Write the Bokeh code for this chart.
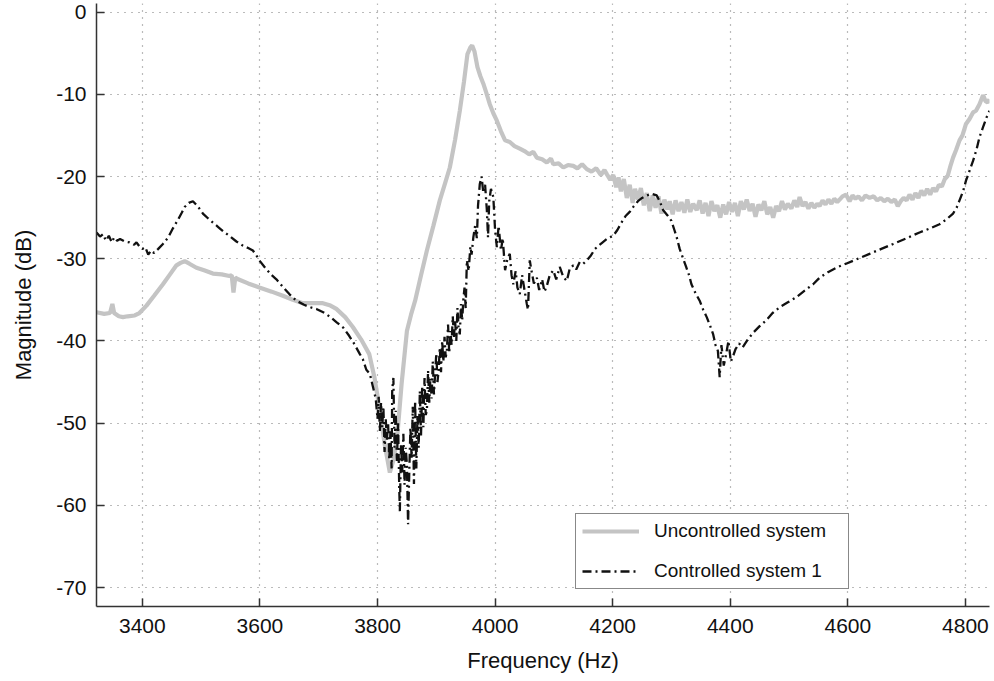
from bokeh.plotting import figure
from bokeh.models import Range1d, FixedTicker, Legend, LegendItem
from bokeh.embed import file_html
from bokeh.resources import INLINE

# ---------------- data ----------------
x_ticks = [3400, 3600, 3800, 4000, 4200, 4400, 4600, 4800]
y_ticks = [-70, -60, -50, -40, -30, -20, -10, 0]

unc_freq = [3322, 3335, 3345, 3349, 3352, 3360, 3367, 3375, 3387, 3395, 3407, 3420, 3435, 3447, 3458,
            3465, 3472, 3480, 3492, 3505, 3520, 3535, 3548, 3552, 3555, 3558, 3563, 3580, 3599, 3620,
            3639, 3656, 3673, 3690, 3707, 3720, 3730, 3745, 3758, 3772, 3786, 3795, 3804, 3812, 3821,
            3827, 3833, 3841, 3850, 3857, 3864, 3874, 3884, 3895, 3906, 3915, 3923, 3932, 3940, 3947,
            3953, 3958, 3961, 3965, 3970, 3975, 3980, 3985, 3991, 3997, 4003, 4010, 4017, 4025, 4033,
            4042, 4050, 4058, 4065, 4071, 4080, 4088, 4095, 4099, 4108, 4116, 4124, 4133, 4140, 4148,
            4156, 4164, 4172, 4180, 4186, 4190, 4196, 4201, 4206, 4210, 4214, 4219, 4224, 4229, 4234,
            4238, 4243, 4248, 4253, 4258, 4263, 4268, 4273, 4278, 4283, 4288, 4293, 4297, 4302, 4307,
            4312, 4317, 4322, 4327, 4332, 4337, 4343, 4348, 4353, 4358, 4363, 4368, 4373, 4378, 4383,
            4388, 4393, 4398, 4403, 4408, 4413, 4418, 4423, 4428, 4433, 4438, 4443, 4448, 4453, 4458,
            4463, 4468, 4473, 4478, 4483, 4488, 4493, 4498, 4504, 4509, 4514, 4518, 4523, 4528, 4533,
            4538, 4543, 4548, 4552, 4557, 4562, 4567, 4572, 4577, 4582, 4586, 4591, 4597, 4603, 4608,
            4613, 4618, 4624, 4630, 4637, 4644, 4650, 4656, 4662, 4668, 4674, 4680, 4685, 4690, 4695,
            4700, 4705, 4710, 4715, 4720, 4725, 4730, 4735, 4740, 4745, 4750, 4755, 4760, 4765, 4770,
            4775, 4779, 4784, 4790, 4795, 4801, 4807, 4813, 4818, 4824, 4830, 4834, 4838, 4841]
unc_db = [-36.5, -36.7, -36.6, -35.5, -36.6, -37.0, -37.1, -37.0, -36.9, -36.6, -35.7, -34.5, -33.1, -31.9, -30.8,
          -30.5, -30.3, -30.6, -31.1, -31.4, -31.8, -31.9, -32.1, -32.0, -34.1, -32.3, -32.5, -33.0, -33.5, -34.0,
          -34.5, -35.0, -35.4, -35.4, -35.4, -35.7, -36.1, -37.1, -38.3, -39.8, -41.6, -44.5, -48.5, -52.5, -56.0,
          -54.5, -52.1, -45.2, -38.8, -36.8, -35.1, -32.0, -29.0, -26.0, -22.9, -20.8, -18.9, -15.5, -12.0, -8.5,
          -5.1, -4.3, -4.05, -4.8, -6.7, -7.8, -8.7, -9.8, -11.2, -12.3, -13.2, -14.5, -15.6, -15.8, -16.3,
          -16.6, -16.9, -17.3, -17.0, -17.7, -17.9, -18.3, -17.8, -18.5, -18.4, -18.9, -18.6, -18.7, -19.0, -18.5,
          -19.1, -19.4, -19.0, -19.8, -19.2, -19.7, -20.4, -19.8, -21.3, -20.1, -21.8, -20.3, -22.6, -21.0, -23.2,
          -21.5, -22.8, -21.4, -23.5, -22.0, -24.2, -22.3, -23.8, -22.4, -24.5, -22.8, -24.0, -23.0, -24.6, -22.9,
          -24.2, -23.1, -24.4, -22.8, -24.3, -23.3, -24.1, -22.9, -24.5, -23.2, -24.8, -23.0, -24.2, -23.5, -25.0,
          -23.4, -24.6, -23.1, -24.3, -23.2, -24.8, -23.0, -24.0, -22.8, -24.2, -23.3, -24.9, -23.4, -24.1, -23.0,
          -24.6, -23.7, -25.0, -23.6, -24.2, -23.0, -24.0, -23.3, -23.9, -22.9, -23.7, -22.5, -23.6, -23.1, -23.9,
          -23.2, -23.8, -23.3, -23.6, -22.9, -23.4, -22.8, -23.3, -22.7, -23.1, -22.8, -22.4, -22.2, -23.0, -22.3,
          -22.7, -22.4, -22.9, -22.3, -22.6, -22.4, -22.9, -22.6, -23.0, -22.7, -23.1, -22.8, -23.6, -23.0, -22.6,
          -22.9, -22.2, -22.8, -22.0, -22.6, -21.7, -22.3, -21.5, -22.2, -21.4, -21.8, -21.0, -21.2, -20.3, -19.9,
          -18.6, -17.7, -16.8, -15.6, -15.0, -13.6, -13.0, -12.2, -12.0, -11.2, -10.1, -10.8, -11.0, -10.6]

ctl_freq = [3322, 3328, 3333, 3338, 3343, 3348, 3352, 3357, 3362, 3370, 3378, 3386, 3390, 3395, 3400,
            3405, 3410, 3415, 3420, 3427, 3435, 3444, 3452, 3461, 3467, 3472, 3479, 3486, 3494, 3503,
            3512, 3520, 3530, 3540, 3548, 3560, 3571, 3580, 3588, 3594, 3599, 3610, 3620, 3628, 3640,
            3650, 3662, 3675, 3686, 3696, 3710, 3720, 3730, 3742, 3752, 3760, 3770, 3775, 3781, 3787,
            3792, 3797, 3800, 3802, 3804, 3806, 3808, 3810, 3812, 3814, 3816, 3818, 3820, 3822, 3824,
            3825, 3827, 3829, 3831, 3833, 3835, 3837, 3838, 3840, 3842, 3844, 3846, 3848, 3850, 3852,
            3854, 3856, 3858, 3860, 3862, 3864, 3866, 3868, 3870, 3872, 3874, 3876, 3878, 3880, 3882,
            3884, 3886, 3888, 3890, 3892, 3894, 3896, 3898, 3900, 3902, 3904, 3906, 3908, 3910, 3912,
            3914, 3916, 3918, 3920, 3922, 3924, 3926, 3928, 3930, 3932, 3934, 3936, 3938, 3940, 3942,
            3944, 3946, 3948, 3950, 3952, 3955, 3958, 3960, 3963,
            3966, 3969, 3971, 3974, 3977, 3980, 3983, 3986, 3988, 3990, 3993, 3997, 4000, 4003, 4006,
            4010, 4013, 4017, 4021, 4025, 4028, 4031, 4035, 4038, 4042, 4046, 4050, 4054, 4056, 4059,
            4062, 4066, 4071, 4075, 4080, 4084, 4088, 4093, 4099, 4104, 4110, 4116, 4122, 4127, 4133,
            4138, 4144, 4150, 4156, 4163, 4170, 4176, 4183, 4190, 4195, 4201, 4208, 4215, 4222, 4229,
            4236, 4243, 4250, 4258, 4266, 4275, 4280, 4286, 4293, 4300, 4305, 4309, 4314, 4320, 4325,
            4330, 4334, 4341, 4348, 4354, 4360, 4366, 4371, 4375, 4379, 4382, 4385, 4389, 4393, 4397,
            4401, 4404, 4409, 4415, 4421, 4430, 4439, 4450, 4461, 4472, 4484, 4498, 4512, 4526, 4541,
            4552, 4567, 4583, 4597, 4617, 4637, 4657, 4677, 4700, 4722, 4740, 4756, 4768, 4779, 4785,
            4790, 4796, 4801, 4807, 4813, 4819, 4824, 4830, 4836, 4841]
ctl_db = [-26.8, -27.3, -27.0, -27.8, -27.2, -28.0, -27.4, -27.8, -27.6, -27.9, -28.0, -28.3, -28.0, -28.5, -28.8,
          -28.6, -29.5, -29.0, -29.3, -28.8, -28.2, -27.4, -26.3, -25.2, -24.4, -23.7, -23.2, -23.0, -23.6, -24.5,
          -25.1, -25.6, -26.2, -26.8, -27.2, -27.9, -28.4, -28.7, -29.0, -29.6, -30.2, -31.2, -32.0, -32.5, -33.5,
          -34.3, -35.1, -35.6, -35.9, -36.1, -36.6, -37.1, -37.7, -38.4, -39.4, -40.3, -41.6, -42.2, -43.5, -44.0,
          -45.5, -47.0, -49.5, -46.8, -51.0, -47.5, -50.5, -48.0, -53.5, -49.5, -52.0, -50.0, -54.5, -51.0, -55.5,
          -46.0, -44.5, -53.0, -48.5, -54.6, -50.0, -58.0, -60.7, -52.5, -56.0, -51.3, -57.5, -53.0, -55.0, -62.3,
          -56.0, -50.5, -54.2, -48.0, -57.4, -47.3, -55.5, -49.0, -53.0, -46.1, -51.5, -45.5, -50.5, -44.5, -49.0,
          -48.5, -43.6, -47.5, -44.5, -47.0, -42.5, -46.5, -44.0, -41.5, -45.0, -43.5, -40.8, -43.8, -40.0, -42.5,
          -39.5, -42.0, -41.2, -38.0, -41.5, -38.8, -40.5, -37.0, -39.5, -37.5, -40.0, -36.0, -38.5, -39.2, -35.5,
          -37.5, -35.0, -33.5, -36.0, -30.2, -31.5, -28.5, -29.5, -27.4,
          -26.0, -27.5, -23.5, -20.9, -20.0, -22.0, -21.0, -24.1, -27.4, -23.0, -21.5, -22.5, -26.5, -28.6, -26.0,
          -29.0, -27.5, -31.4, -30.0, -29.4, -32.0, -33.1, -31.5, -33.5, -34.3, -32.0, -33.8, -35.5, -36.2, -30.2,
          -31.5, -33.0, -32.3, -33.8, -32.5, -34.0, -33.3, -32.0, -31.4, -32.5, -31.0, -32.2, -32.7, -31.2, -30.8,
          -31.3, -30.4, -30.6, -30.2, -29.6, -28.8, -28.4, -28.0, -27.6, -27.4, -27.2, -26.5, -25.6, -24.8, -24.3,
          -23.6, -23.0, -22.6, -22.3, -22.1, -22.3, -23.0, -24.1, -24.7, -25.4, -26.5, -27.4, -28.8, -30.0, -31.0,
          -32.0, -33.1, -34.2, -35.1, -36.2, -37.1, -38.2, -39.2, -40.5, -41.2, -44.4, -40.5, -43.0, -41.6, -40.0,
          -42.5, -42.0, -41.0, -40.3, -40.8, -39.8, -39.0, -38.2, -37.5, -36.6, -35.9, -35.3, -34.7, -33.9, -33.1,
          -32.3, -31.6, -31.0, -30.6, -30.0, -29.4, -28.8, -28.2, -27.5, -26.8, -26.3, -25.8, -25.2, -24.5, -23.8,
          -22.9, -21.8, -20.5, -19.3, -18.1, -16.7, -15.2, -14.0, -12.8, -12.0]

series_labels = ["Uncontrolled system", "Controlled system 1"]
x_title = "Frequency (Hz)"
y_title = "Magnitude (dB)"

FONT = "Liberation Sans"

# ---------------- figure ----------------
p = figure(width=990, height=678, output_backend="svg", toolbar_location=None,
           x_range=Range1d(3322, 4841), y_range=Range1d(-72.3, 1.05),
           min_border_left=96, min_border_right=1, min_border_top=3, min_border_bottom=72)
p.outline_line_color = None
p.background_fill_color = "white"
p.border_fill_color = "white"

r1 = p.line(unc_freq, unc_db, line_color="#c4c4c4", line_width=4.2)
r2 = p.line(ctl_freq, ctl_db, line_color="#111111", line_width=2.3, line_dash="9 4 2 4")

for ax in (p.xaxis[0], p.yaxis[0]):
    ax.axis_line_color = "#333333"
    ax.axis_line_width = 1.5
    ax.major_tick_line_color = "#333333"
    ax.major_tick_line_width = 1.5
    ax.major_tick_in = 8
    ax.major_tick_out = 0
    ax.minor_tick_line_color = None
    ax.major_label_text_font = FONT
    ax.major_label_text_font_size = "21px"
    ax.major_label_text_color = "#111111"
    ax.axis_label_text_font = FONT
    ax.axis_label_text_font_size = "22px"
    ax.axis_label_text_font_style = "normal"
    ax.axis_label_text_color = "#111111"

p.xaxis.ticker = FixedTicker(ticks=x_ticks)
p.yaxis.ticker = FixedTicker(ticks=y_ticks)
p.xaxis.major_label_overrides = {v: str(v) for v in x_ticks}
p.yaxis.major_label_overrides = {v: str(v) for v in y_ticks}
p.xaxis.major_label_standoff = 12
p.yaxis.major_label_standoff = 10
p.xaxis.axis_label = x_title
p.xaxis.axis_label_standoff = 12
p.yaxis.axis_label = y_title
p.yaxis.axis_label_standoff = 17

for g in (p.xgrid[0], p.ygrid[0]):
    g.grid_line_color = "#777777"
    g.grid_line_width = 1.2
    g.grid_line_dash = "1 6"

legend = Legend(items=[LegendItem(label=series_labels[0], renderers=[r1]),
                       LegendItem(label=series_labels[1], renderers=[r2])],
                location=(479, 17), margin=0, padding=6, spacing=18,
                glyph_width=57, glyph_height=22, label_height=22, label_width=188,
                label_standoff=15, label_text_font=FONT, label_text_font_size="19px",
                label_text_color="#111111",
                border_line_color="#111111", border_line_width=1.5,
                background_fill_color="white", background_fill_alpha=1.0)
p.add_layout(legend)

open("out.html", "w").write(file_html(p, INLINE))
